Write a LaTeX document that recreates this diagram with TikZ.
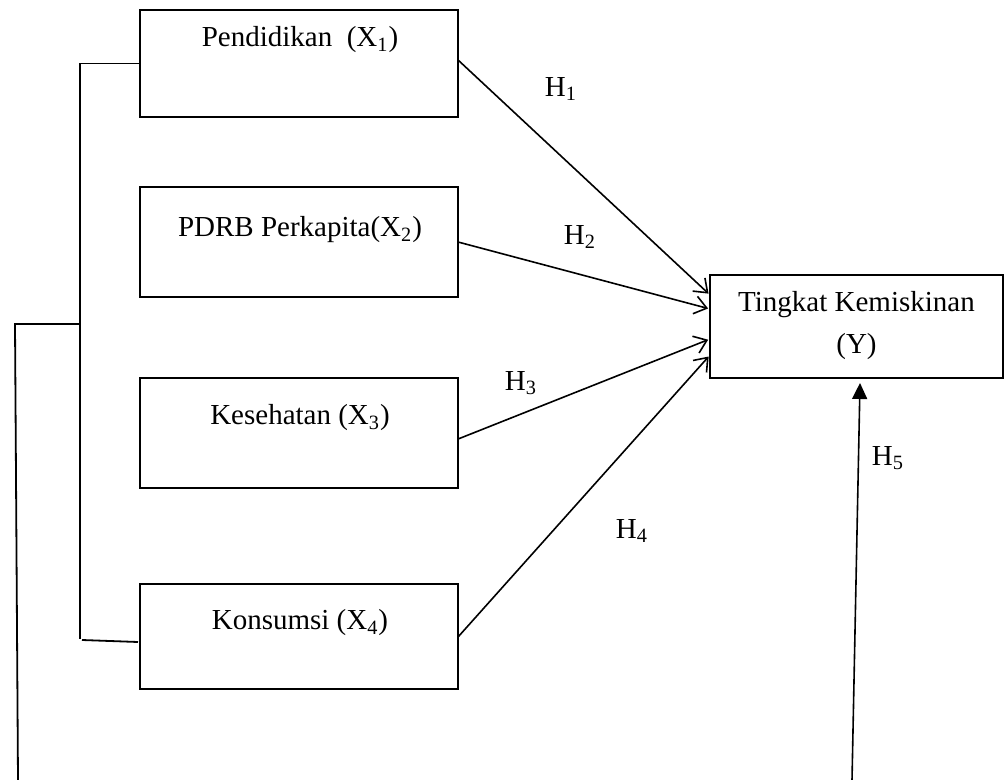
\documentclass[tikz,border=0pt]{standalone}
\usepackage{fontspec}
\setmainfont{Liberation Serif}
\usetikzlibrary{arrows.meta,calc}
\begin{document}
\begin{tikzpicture}[x=0.5pt,y=-0.5pt,
  box/.style={draw,line width=1pt,inner sep=0pt,outer sep=0pt},
  txt/.style={font=\fontsize{14.5}{17}\selectfont,inner sep=0pt},
  link/.style={line width=0.8pt,-{Straight Barb[length=6pt,width=9pt,line width=0.8pt]},shorten >=1pt},
  bracket/.style={line width=0.9pt},
  solidarrow/.style={line width=0.8pt,-{Triangle[length=8pt,width=7.5pt]}}
]
\useasboundingbox (0,0) rectangle (1005,780);

% boxes
\node[box,minimum width=159pt,minimum height=53.5pt] (x1) at (299,63.5) {};
\node[box,minimum width=159pt,minimum height=55pt]   (x2) at (299,242) {};
\node[box,minimum width=159pt,minimum height=55pt]   (x3) at (299,433) {};
\node[box,minimum width=159pt,minimum height=52.5pt] (x4) at (299,636.5) {};
\node[box,minimum width=146.5pt,minimum height=51.5pt] (y) at (856.5,326.5) {};

% box texts
\node[txt] (t1) at (300,40) {Pendidikan\ \ (X\textsubscript{1})};
\node[txt] (t2) at (300,230) {PDRB Perkapita(X\textsubscript{2})};
\node[txt] (t3) at (300,418) {Kesehatan (X\textsubscript{3})};
\node[txt] (t4) at (300,623) {Konsumsi (X\textsubscript{4})};
\node[txt,align=center,font=\fontsize{14.5}{21}\selectfont] (ty) at (856.5,326) {Tingkat Kemiskinan\\(Y)};

% hypothesis labels
\node[txt] (h1) at (561,89) {H\textsubscript{1}};
\node[txt] (h2) at (580,237) {H\textsubscript{2}};
\node[txt] (h3) at (521,383) {H\textsubscript{3}};
\node[txt] (h4) at (632,531) {H\textsubscript{4}};
\node[txt] (h5) at (888,458) {H\textsubscript{5}};

% arrows into Y
\draw[link] ($(x1.north east)!0.467!(x1.south east)$) -- ($(y.north west)!0.194!(y.south west)$);
\draw[link] ($(x2.north east)!0.5!(x2.south east)$) -- ($(y.north west)!0.33!(y.south west)$);
\draw[link] ($(x3.north east)!0.555!(x3.south east)$) -- ($(y.north west)!0.621!(y.south west)$);
\draw[link] ($(x4.north east)!0.505!(x4.south east)$) -- ($(y.north west)!0.777!(y.south west)$);

% bracket on the left
\coordinate (btop) at (80,63.5);
\coordinate (bmid) at (80,324);
\coordinate (bbot) at (80,639);
\coordinate (lcorner) at (15,324);
\coordinate (lbot) at (18,780);
\coordinate (h5bot) at (852,780);
\draw[bracket] (x1.west) -- (btop) -- (bbot);
\draw[bracket] ($(bbot)+(2,1)$) -- ($(x4.west)+(-2,5.5)$);
\draw[bracket] (bmid) -- (lcorner) -- (lbot);

% H5 arrow
\draw[solidarrow] (h5bot) -- ($(y.south)+(3.5,5)$);
\end{tikzpicture}
\end{document}
